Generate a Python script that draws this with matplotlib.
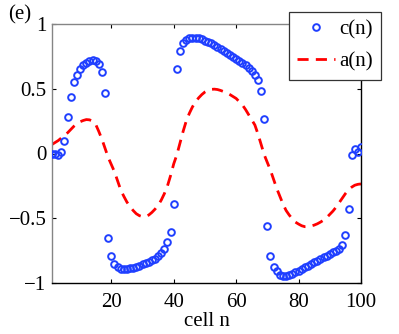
import matplotlib
matplotlib.use('Agg')
import matplotlib.pyplot as plt
import numpy as np

plt.rcParams['font.family'] = ['Liberation Serif', 'DejaVu Serif']

# cell index
n = np.arange(1, 101)

# c(n)
c = [0.0, 0.0, -0.01, 0.015, 0.10, 0.28, 0.44, 0.55, 0.61, 0.655,
     0.68, 0.70, 0.715, 0.72, 0.715, 0.69, 0.63, 0.47, -0.65, -0.79,
     -0.85, -0.88, -0.89, -0.895, -0.893, -0.888, -0.882, -0.874, -0.866, -0.857,
     -0.847, -0.836, -0.824, -0.811, -0.795, -0.77, -0.735, -0.686, -0.61, -0.39,
     0.65, 0.79, 0.85, 0.875, 0.89, 0.895, 0.895, 0.89, 0.882, 0.872,
     0.862, 0.85, 0.836, 0.822, 0.808, 0.793, 0.778, 0.763, 0.748, 0.733,
     0.717, 0.70, 0.683, 0.664, 0.64, 0.606, 0.568, 0.485, 0.27, -0.557,
     -0.79, -0.874, -0.91, -0.935, -0.945, -0.945, -0.938, -0.928, -0.917, -0.905,
     -0.893, -0.88, -0.867, -0.854, -0.841, -0.828, -0.815, -0.802, -0.789, -0.776,
     -0.763, -0.75, -0.735, -0.705, -0.627, -0.43, -0.01, 0.035, 0.01, 0.05]

# a(n)
a = [0.07, 0.085, 0.10, 0.12, 0.14, 0.16, 0.185, 0.21, 0.23, 0.245,
     0.255, 0.262, 0.26, 0.25, 0.225, 0.17, 0.11, 0.04, -0.03, -0.085,
     -0.14, -0.21, -0.28, -0.33, -0.375, -0.41, -0.44, -0.465, -0.48, -0.488,
     -0.487, -0.475, -0.455, -0.43, -0.40, -0.36, -0.31, -0.25, -0.17, -0.08,
     -0.01, 0.08, 0.17, 0.25, 0.31, 0.36, 0.40, 0.43, 0.455, 0.475,
     0.488, 0.495, 0.497, 0.494, 0.487, 0.478, 0.468, 0.455, 0.44, 0.425,
     0.40, 0.375, 0.34, 0.30, 0.26, 0.22, 0.15, 0.07, -0.01, -0.07,
     -0.13, -0.20, -0.27, -0.33, -0.39, -0.44, -0.475, -0.505, -0.53, -0.545,
     -0.558, -0.565, -0.565, -0.56, -0.553, -0.543, -0.53, -0.515, -0.495, -0.47,
     -0.445, -0.415, -0.38, -0.345, -0.31, -0.28, -0.26, -0.245, -0.238, -0.235]

xticks = [20, 40, 60, 80, 100]
yticks = [-1, -0.5, 0, 0.5, 1]
yticklabels = ['\u22121', '\u22120.5', '0', '0.5', '1']

fig = plt.figure(figsize=(3.99, 3.34), dpi=100)
ax = fig.add_axes([52/399, 51/334, 309/399, 259/334])

ax.plot(n, c, 'o', mfc='none', mec='#1f3fff', ms=4.8, mew=1.4, label='c(n)', zorder=3)
ax.plot(n, a, '--', color='#ff0000', lw=2, dashes=(4, 2.6), label='a(n)', zorder=2)

ax.set_xlim(1, 100)
ax.set_ylim(-1, 1)
ax.set_xticks(xticks)
ax.set_yticks(yticks)
ax.set_yticklabels(yticklabels)
ax.tick_params(direction='in', length=3, width=0.8, labelsize=15,
               top=True, right=True, pad=4)
ax.tick_params(axis='x', pad=7)
for s in ['left', 'top']:
    ax.spines[s].set_color('#858585')
for s in ['right', 'bottom']:
    ax.spines[s].set_color('black')
for s in ax.spines.values():
    s.set_linewidth(1.0)

ax.set_xlabel('cell n', fontsize=15, labelpad=0)

leg = ax.legend(loc='upper right', bbox_to_anchor=(381/399, 1 - 11.7/334),
                bbox_transform=fig.transFigure, fontsize=15, fancybox=False,
                framealpha=1, edgecolor='#333333', handlelength=1.8,
                handletextpad=0.2, borderpad=0.4, labelspacing=0.6,
                borderaxespad=0)
leg.get_frame().set_linewidth(0.9)
leg.set_zorder(10)

fig.text(8/399, 1 - 15/334, '(e)', fontsize=15, va='center', ha='left')

fig.savefig('out.png', dpi=100)
